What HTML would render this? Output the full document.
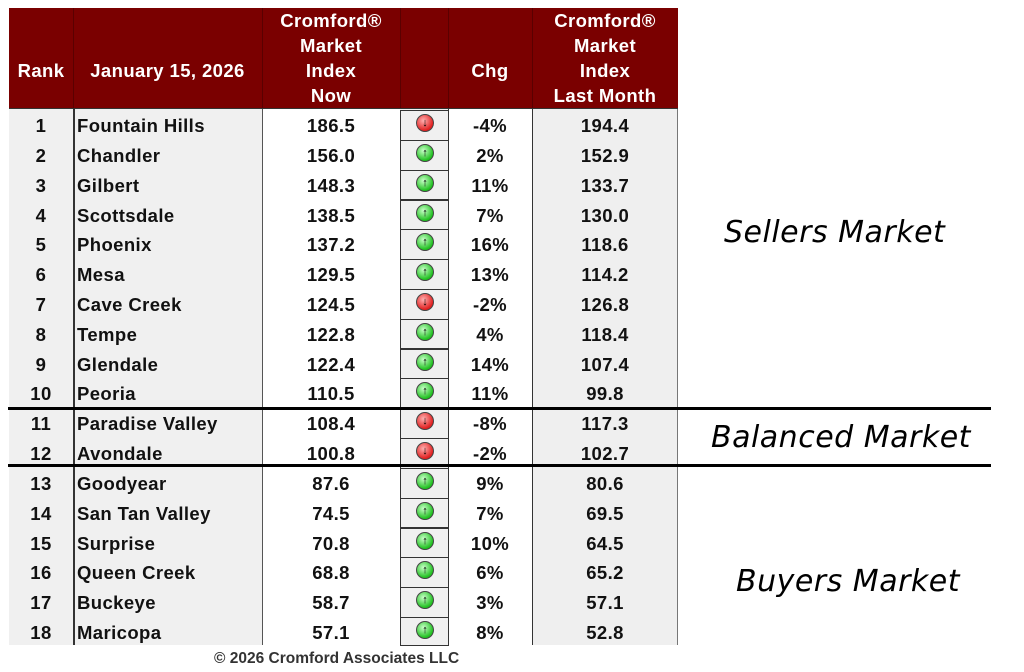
<!DOCTYPE html>
<html><head><meta charset="utf-8"><style>
body{margin:0;width:1024px;height:672px;background:#fff;position:relative;overflow:hidden;font-family:"Liberation Sans",sans-serif;}
.hdr{position:absolute;top:8px;height:101px;background:#7a0000;}
.ht{position:absolute;color:#fff;font-weight:bold;font-size:18.5px;letter-spacing:0.4px;text-align:center;line-height:25px;}
.col{position:absolute;top:109px;height:536px;}
.row{position:absolute;left:9px;width:669px;height:29.82px;font-weight:bold;font-size:18.5px;letter-spacing:0.4px;color:#111;line-height:31px;}
.row span{position:absolute;top:0;text-align:center}
.a{left:0;width:64px}.b{left:68px;text-align:left!important}.c{left:253px;width:138px}.d{left:439px;width:84px}.e{left:523px;width:146px}
.ib{position:absolute;left:400px;width:47px;height:28.8px;border:1px solid #333;background:#f0f0f0;box-sizing:content-box}
.dn,.up{position:absolute;left:15px;top:3px;width:16px;height:16px;border-radius:50%;border:1px solid #444;font-size:11px;line-height:16px;color:#000;text-align:center;font-weight:bold}
.dn{background:radial-gradient(circle at 40% 35%,#ffb0b0,#e02020 70%)}
.up{background:radial-gradient(circle at 40% 35%,#c8ffc8,#20c020 70%)}
.line{position:absolute;left:8px;width:983px;height:3px;background:#000}
.lbl{position:absolute;font-family:"DejaVu Sans",sans-serif;font-style:italic;font-size:30px;color:#000;letter-spacing:0.5px}
.foot{position:absolute;left:214px;top:650px;font-size:15.5px;font-weight:bold;color:#333}
</style></head><body>
<div class="hdr" style="left:9px;width:669px"></div>
<div style="position:absolute;left:73px;top:8px;width:1px;height:101px;background:#5a0000"></div>
<div style="position:absolute;left:262px;top:8px;width:1px;height:101px;background:#5a0000"></div>
<div style="position:absolute;left:400px;top:8px;width:1px;height:101px;background:#5a0000"></div>
<div style="position:absolute;left:448px;top:8px;width:1px;height:101px;background:#5a0000"></div>
<div style="position:absolute;left:532px;top:8px;width:1px;height:101px;background:#5a0000"></div>
<div class="ht" style="left:9px;width:64px;top:58px">Rank</div>
<div class="ht" style="left:73px;width:189px;top:58px">January 15, 2026</div>
<div class="ht" style="left:262px;width:138px;top:8px">Cromford®<br>Market<br>Index<br>Now</div>
<div class="ht" style="left:448px;width:84px;top:58px">Chg</div>
<div class="ht" style="left:532px;width:146px;top:8px">Cromford®<br>Market<br>Index<br>Last Month</div>
<div style="position:absolute;left:9px;top:108px;width:669px;height:2px;background:#333"></div>
<div class="col" style="left:9px;width:64px;background:#f0f0f0"></div>
<div class="col" style="left:73px;width:189px;background:#f0f0f0;border-left:2px solid #333;box-sizing:border-box"></div>
<div class="col" style="left:262px;width:138px;background:#fff;border-left:1px solid #555;box-sizing:border-box"></div>
<div class="col" style="left:400px;width:48px;background:#f0f0f0"></div>
<div class="col" style="left:448px;width:84px;background:#fff;border-left:1px solid #333;box-sizing:border-box"></div>
<div class="col" style="left:532px;width:146px;background:#efefef;border-left:1px solid #333;border-right:1px solid #777;box-sizing:border-box"></div>

<div class="ib" style="top:110px"><i class="dn">↓</i></div>
<div class="ib" style="top:139.8px"><i class="up">↑</i></div>
<div class="ib" style="top:169.6px"><i class="up">↑</i></div>
<div class="ib" style="top:199.5px"><i class="up">↑</i></div>
<div class="ib" style="top:229.3px"><i class="up">↑</i></div>
<div class="ib" style="top:259.1px"><i class="up">↑</i></div>
<div class="ib" style="top:288.9px"><i class="dn">↓</i></div>
<div class="ib" style="top:318.7px"><i class="up">↑</i></div>
<div class="ib" style="top:348.6px"><i class="up">↑</i></div>
<div class="ib" style="top:378.4px"><i class="up">↑</i></div>
<div class="ib" style="top:408.2px"><i class="dn">↓</i></div>
<div class="ib" style="top:438px"><i class="dn">↓</i></div>
<div class="ib" style="top:467.8px"><i class="up">↑</i></div>
<div class="ib" style="top:497.7px"><i class="up">↑</i></div>
<div class="ib" style="top:527.5px"><i class="up">↑</i></div>
<div class="ib" style="top:557.3px"><i class="up">↑</i></div>
<div class="ib" style="top:587.1px"><i class="up">↑</i></div>
<div class="ib" style="top:616.9px;height:27px"><i class="up">↑</i></div>

<div class="row" style="top:110px"><span class="a">1</span><span class="b">Fountain Hills</span><span class="c">186.5</span><span class="d">-4%</span><span class="e">194.4</span></div>
<div class="row" style="top:139.8px"><span class="a">2</span><span class="b">Chandler</span><span class="c">156.0</span><span class="d">2%</span><span class="e">152.9</span></div>
<div class="row" style="top:169.6px"><span class="a">3</span><span class="b">Gilbert</span><span class="c">148.3</span><span class="d">11%</span><span class="e">133.7</span></div>
<div class="row" style="top:199.5px"><span class="a">4</span><span class="b">Scottsdale</span><span class="c">138.5</span><span class="d">7%</span><span class="e">130.0</span></div>
<div class="row" style="top:229.3px"><span class="a">5</span><span class="b">Phoenix</span><span class="c">137.2</span><span class="d">16%</span><span class="e">118.6</span></div>
<div class="row" style="top:259.1px"><span class="a">6</span><span class="b">Mesa</span><span class="c">129.5</span><span class="d">13%</span><span class="e">114.2</span></div>
<div class="row" style="top:288.9px"><span class="a">7</span><span class="b">Cave Creek</span><span class="c">124.5</span><span class="d">-2%</span><span class="e">126.8</span></div>
<div class="row" style="top:318.7px"><span class="a">8</span><span class="b">Tempe</span><span class="c">122.8</span><span class="d">4%</span><span class="e">118.4</span></div>
<div class="row" style="top:348.6px"><span class="a">9</span><span class="b">Glendale</span><span class="c">122.4</span><span class="d">14%</span><span class="e">107.4</span></div>
<div class="row" style="top:378.4px"><span class="a">10</span><span class="b">Peoria</span><span class="c">110.5</span><span class="d">11%</span><span class="e">99.8</span></div>
<div class="row" style="top:408.2px"><span class="a">11</span><span class="b">Paradise Valley</span><span class="c">108.4</span><span class="d">-8%</span><span class="e">117.3</span></div>
<div class="row" style="top:438px"><span class="a">12</span><span class="b">Avondale</span><span class="c">100.8</span><span class="d">-2%</span><span class="e">102.7</span></div>
<div class="row" style="top:467.8px"><span class="a">13</span><span class="b">Goodyear</span><span class="c">87.6</span><span class="d">9%</span><span class="e">80.6</span></div>
<div class="row" style="top:497.7px"><span class="a">14</span><span class="b">San Tan Valley</span><span class="c">74.5</span><span class="d">7%</span><span class="e">69.5</span></div>
<div class="row" style="top:527.5px"><span class="a">15</span><span class="b">Surprise</span><span class="c">70.8</span><span class="d">10%</span><span class="e">64.5</span></div>
<div class="row" style="top:557.3px"><span class="a">16</span><span class="b">Queen Creek</span><span class="c">68.8</span><span class="d">6%</span><span class="e">65.2</span></div>
<div class="row" style="top:587.1px"><span class="a">17</span><span class="b">Buckeye</span><span class="c">58.7</span><span class="d">3%</span><span class="e">57.1</span></div>
<div class="row" style="top:616.9px"><span class="a">18</span><span class="b">Maricopa</span><span class="c">57.1</span><span class="d">8%</span><span class="e">52.8</span></div>

<div class="line" style="top:407px"></div>
<div class="line" style="top:464px"></div>
<div class="lbl" style="left:724px;top:215px">Sellers Market</div>
<div class="lbl" style="left:711px;top:420px">Balanced Market</div>
<div class="lbl" style="left:736px;top:564px">Buyers Market</div>
<div class="foot">© 2026 Cromford Associates LLC</div>
</body></html>
